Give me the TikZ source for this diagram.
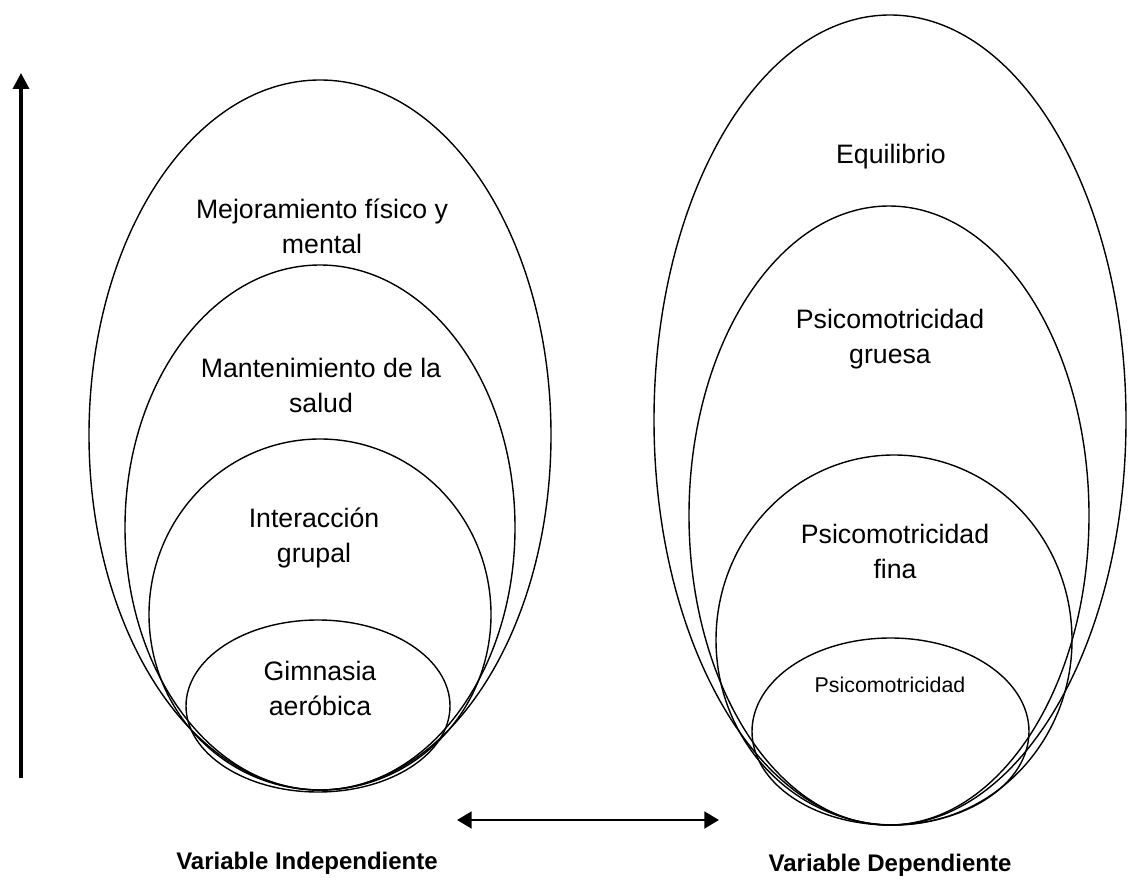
\documentclass[tikz,border=0pt]{standalone}
\usepackage{fontspec}
\setmainfont{Liberation Sans}
\usetikzlibrary{arrows.meta}
\tikzstyle{ring}=[
        draw=black,
        line width=1.05pt
]
\tikzstyle{ringtext}=[
        align=center,
        font=\fontsize{20}{26.25}\selectfont
]
\tikzstyle{vartext}=[
        font=\fontsize{18}{22}\selectfont\bfseries
]
\tikzstyle{bigarrow}=[
        line width=2.7pt,
        -{Triangle[length=12pt,width=12pt]}
]

\begin{document}
\begin{tikzpicture}[x=0.75pt,y=-0.75pt]
    \useasboundingbox (0,0) rectangle (1146,880);

    % variable independiente
    \draw[ring] (320,435) ellipse [x radius=231, y radius=355];
    \draw[ring] (320,527.5) ellipse [x radius=195, y radius=262.5];
    \draw[ring] (320,614.5) ellipse [x radius=171, y radius=175.5];
    \draw[ring] (318,706) ellipse [x radius=132, y radius=86];

    \node[ringtext] (mejora) at (322,226) {Mejoramiento físico y\\mental};
    \node[ringtext] (salud) at (321,385) {Mantenimiento de la\\salud};
    \node[ringtext] (grupo) at (314,538) {Interacción\\grupal};
    \node[ringtext] (gimnasia) at (320,688) {Gimnasia\\aeróbica};

    % variable dependiente
    \draw[ring] (890,420) ellipse [x radius=236, y radius=405];
    \draw[ring] (889,515.5) ellipse [x radius=200, y radius=309.5];
    \draw[ring] (894,640) ellipse [x radius=178, y radius=185];
    \draw[ring] (890.5,731.5) ellipse [x radius=138.5, y radius=93.5];

    \node[ringtext] (equilibrio) at (891,157) {Equilibrio};
    \node[ringtext] (gruesa) at (890,339) {Psicomotricidad\\gruesa};
    \node[ringtext] (fina) at (895,551) {Psicomotricidad\\fina};
    \node[ringtext, font=\fontsize{16}{20}\selectfont] (psico) at (890,685) {Psicomotricidad};

    \node[vartext] (indep) at (307,863) {Variable Independiente};
    \node[vartext] (dep) at (890,865) {Variable Dependiente};

    % flechas
    \coordinate (up0) at (21,778);
    \coordinate (up1) at (21,73);
    \draw[bigarrow] (up0) -- (up1);

    \coordinate (link0) at (457,820);
    \coordinate (link1) at (719,820);
    \draw[line width=2.2pt, {Triangle[length=11pt,width=12.5pt]}-{Triangle[length=11pt,width=12.5pt]}] (link0) -- (link1);

\end{tikzpicture}
\end{document}
